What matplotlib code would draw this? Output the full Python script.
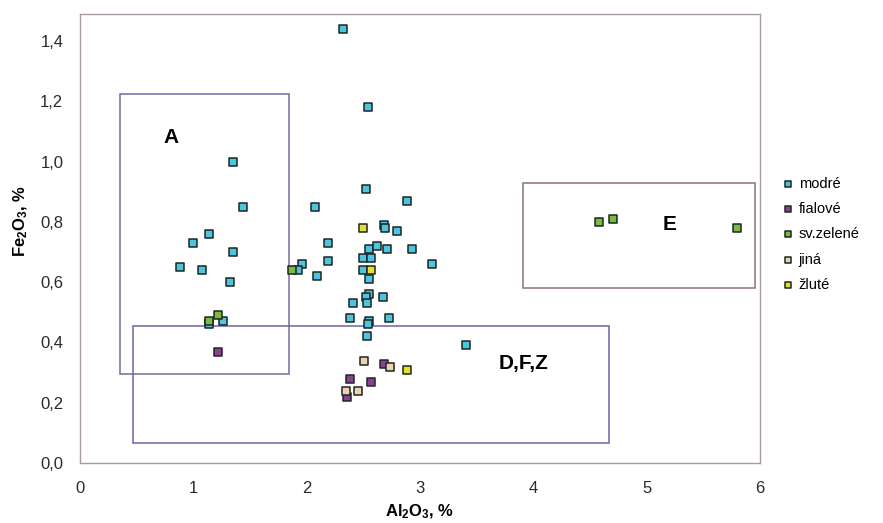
import matplotlib
matplotlib.use('Agg')
import matplotlib.pyplot as plt
from matplotlib.patches import Rectangle

plt.rcParams['font.family'] = ['Liberation Sans', 'DejaVu Sans']
plt.rcParams['mathtext.fontset'] = 'custom'
plt.rcParams['mathtext.rm'] = 'Liberation Sans'
plt.rcParams['mathtext.bf'] = 'Liberation Sans:bold'

# data (Al2O3 %, Fe2O3 %)
modre_x = [2.32, 2.54, 1.35, 1.44, 2.07, 2.52, 2.89, 1.14, 1.00, 1.35, 0.88, 1.08,
           1.32, 1.96, 1.92, 2.09, 2.19, 2.19, 2.68, 2.69, 2.80, 2.55, 2.62, 2.71,
           2.93, 2.50, 2.57, 3.11, 2.50, 2.55, 2.55, 2.52, 2.67, 2.41, 2.53, 2.38,
           2.55, 2.54, 2.73, 2.53, 3.41, 1.14, 1.26]
modre_y = [1.44, 1.18, 1.00, 0.85, 0.85, 0.91, 0.87, 0.76, 0.73, 0.70, 0.65, 0.64,
           0.60, 0.66, 0.64, 0.62, 0.73, 0.67, 0.79, 0.78, 0.77, 0.71, 0.72, 0.71,
           0.71, 0.68, 0.68, 0.66, 0.64, 0.61, 0.56, 0.55, 0.55, 0.53, 0.53, 0.48,
           0.47, 0.46, 0.48, 0.42, 0.39, 0.46, 0.47]
fialove_x = [1.22, 2.68, 2.38, 2.57, 2.36]
fialove_y = [0.37, 0.33, 0.28, 0.27, 0.22]
zelene_x = [1.22, 1.14, 1.87, 4.58, 4.70, 5.80]
zelene_y = [0.49, 0.47, 0.64, 0.80, 0.81, 0.78]
jina_x = [2.51, 2.74, 2.35, 2.45]
jina_y = [0.34, 0.32, 0.24, 0.24]
zlute_x = [2.50, 2.57, 2.89]
zlute_y = [0.78, 0.64, 0.31]

series = [
    ('modré', modre_x, modre_y, '#4ec4e0'),
    ('fialové', fialove_x, fialove_y, '#8e3f92'),
    ('sv.zelené', zelene_x, zelene_y, '#7cba3c'),
    ('jiná', jina_x, jina_y, '#ecd3ad'),
    ('žluté', zlute_x, zlute_y, '#e6e02a'),
]

# outlined regions: label, (x0, x1, y0, y1), text position, colour
regions = [
    ('A', (0.35, 1.84, 0.295, 1.224), (0.80, 1.08), '#7a6a9c'),
    ('D,F,Z', (0.47, 4.67, 0.066, 0.455), (3.91, 0.33), '#6e62a6'),
    ('E', (3.91, 5.96, 0.581, 0.929), (5.20, 0.79), '#8a7474'),
]

y_ticks = [0.0, 0.2, 0.4, 0.6, 0.8, 1.0, 1.2, 1.4]
y_labels = ['0,0', '0,2', '0,4', '0,6', '0,8', '1,0', '1,2', '1,4']
x_ticks = [0, 1, 2, 3, 4, 5, 6]

fig = plt.figure(figsize=(8.83, 5.23), dpi=100)
ax = fig.add_axes([0.0906, 0.1147, 0.770, 0.8586])

for name, xs, ys, col in series:
    ax.scatter(xs, ys, marker='s', s=36, c=col, edgecolors='#1c2626',
               linewidths=1.1, label=name, zorder=3)

for lab, (x0, x1, y0, y1), (tx, ty), col in regions:
    ax.add_patch(Rectangle((x0, y0), x1 - x0, y1 - y0, fill=False,
                           edgecolor=col, linewidth=1.1, zorder=2))
    ax.text(tx, ty, lab, fontsize=15, fontweight='bold', ha='center',
            va='center', zorder=4)

ax.set_xlim(0, 6)
ax.set_ylim(0, 1.49)
ax.set_xticks(x_ticks)
ax.set_yticks(y_ticks)
ax.set_yticklabels(y_labels)
ax.tick_params(length=0, labelsize=12, colors='#2a2a2a')
ax.tick_params(axis='x', pad=13)
ax.tick_params(axis='y', pad=12)
for sp in ax.spines.values():
    sp.set_color('#a89a9a')
    sp.set_linewidth(1.0)

ax.set_xlabel(r'$\mathbf{Al_2O_3}$, %', fontsize=12, fontweight='bold')
ax.set_ylabel(r'$\mathbf{Fe_2O_3}$, %', fontsize=12, fontweight='bold')
ax.xaxis.set_label_coords(0.5, -0.088)
ax.yaxis.set_label_coords(-0.074, 0.54)

leg = ax.legend(loc='center left', bbox_to_anchor=(0.878, 0.552),
                bbox_transform=fig.transFigure, frameon=False, fontsize=10.5,
                handletextpad=0.2, labelspacing=0.78, markerscale=0.8,
                handlelength=1.0, borderaxespad=0)

fig.savefig('out.png', dpi=100)
